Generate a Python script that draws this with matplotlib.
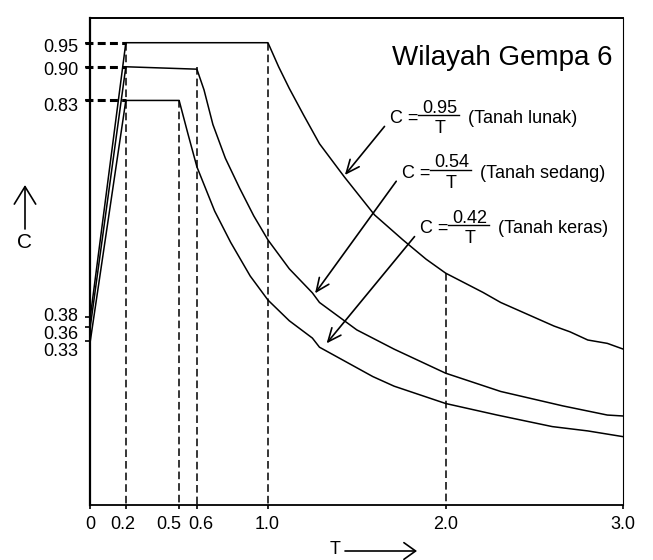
import matplotlib.pyplot as plt
import numpy as np
from matplotlib.transforms import ScaledTranslation

plt.rcParams["font.family"] = ["Liberation Sans", "DejaVu Sans"]

lunak_T = [0.0, 0.2, 1.0, 1.06, 1.12, 1.20, 1.29, 1.43, 1.60, 1.76, 1.89, 2.0, 2.21, 2.31, 2.61, 2.70, 2.80, 2.91, 3.0]
lunak_C = [0.38, 0.95, 0.95, 0.90, 0.855, 0.80, 0.74, 0.671, 0.592, 0.54, 0.50, 0.471, 0.431, 0.41, 0.361, 0.349, 0.332, 0.325, 0.313]

sedang_T = [0.0, 0.2, 0.6, 0.64, 0.69, 0.76, 0.84, 0.92, 1.0, 1.12, 1.25, 1.29, 1.5, 1.71, 2.0, 2.31, 2.66, 2.91, 3.0]
sedang_C = [0.36, 0.90, 0.895, 0.852, 0.78, 0.71, 0.648, 0.59, 0.54, 0.48, 0.43, 0.41, 0.353, 0.313, 0.263, 0.225, 0.195, 0.176, 0.174]

keras_T = [0.0, 0.2, 0.5, 0.55, 0.6, 0.7, 0.79, 0.9, 1.0, 1.12, 1.25, 1.29, 1.59, 1.71, 2.0, 2.29, 2.6, 2.8, 3.0]
keras_C = [0.33, 0.83, 0.83, 0.76, 0.692, 0.60, 0.535, 0.465, 0.415, 0.372, 0.336, 0.317, 0.256, 0.236, 0.200, 0.176, 0.152, 0.143, 0.131]

soil_names = ["Tanah lunak", "Tanah sedang", "Tanah keras"]
soil_coef = [0.95, 0.54, 0.42]
plateau_C = [0.95, 0.90, 0.83]

# dashed reference verticals (T, C where they meet the curve)
ref_T = [0.2, 0.5, 0.6, 1.0, 2.0]
ref_C = [0.95, 0.83, 0.90, 0.95, 0.471]

x_ticks = [0, 0.2, 0.5, 0.6, 1.0, 2.0, 3.0]
x_labels = ["0", "0.2", "0.5", "0.6", "1.0", "2.0", "3.0"]
y_ticks = [0.33, 0.36, 0.38, 0.83, 0.90, 0.95]
y_labels = ["0.33", "0.36", "0.38", "0.83", "0.90", "0.95"]

fig = plt.figure(figsize=(6.53, 5.60), dpi=100)
ax = fig.add_axes([90.3 / 653, 1 - 505 / 560, 533 / 653, 487.3 / 560])
ax.set_xlim(0, 3.0)
ax.set_ylim(-0.011, 1.002)

for T, C in [(lunak_T, lunak_C), (sedang_T, sedang_C), (keras_T, keras_C)]:
    ax.plot(T, C, color="black", lw=1.1, solid_joinstyle="round")

for t, c in zip(ref_T, ref_C):
    ax.plot([t, t], [c, -0.011], color="black", lw=1.1, dashes=(5, 2.6))

for c in plateau_C:
    ax.plot([-0.03, 0.2], [c, c], color="black", lw=2.2, dashes=(2.6, 1.4), clip_on=False)

# frame
ax.spines["left"].set_linewidth(1.6)
ax.spines["top"].set_linewidth(1.4)
ax.spines["bottom"].set_linewidth(1.3)
ax.spines["right"].set_linewidth(0.8)

ax.set_xticks(x_ticks)
ax.set_xticklabels(x_labels, fontsize=13)
ax.set_yticks(y_ticks)
ax.set_yticklabels(y_labels, fontsize=13)
ax.tick_params(axis="x", direction="out", length=3, width=1.2, pad=5)
ax.tick_params(axis="y", direction="out", length=3.5, width=1.2, pad=5)

# nudge crowded labels the way the drawing does (pixels)
x_shift = [0, -3, -10, 4, -1, 0, 0]
y_shift = [-9, -5.5, 2.5, -4, -2, -3]
for lab, dx in zip(ax.get_xticklabels(), x_shift):
    lab.set_transform(lab.get_transform() + ScaledTranslation(dx / 100, 0, fig.dpi_scale_trans))
for lab, dy in zip(ax.get_yticklabels(), y_shift):
    lab.set_transform(lab.get_transform() + ScaledTranslation(0, dy / 100, fig.dpi_scale_trans))

ax.text(2.941, 0.918, "Wilayah Gempa 6", fontsize=20, ha="right", va="center")

# formula labels with arrows
label_pos = [(1.686, 0.793), (1.752, 0.679), (1.855, 0.564)]
arrow_tip = [(1.433, 0.675), (1.265, 0.429), (1.330, 0.325)]
for name, k, (lx, ly), tip in zip(soil_names, soil_coef, label_pos, arrow_tip):
    ax.text(lx, ly, "C =", fontsize=13, ha="left", va="center")
    fx = lx + 0.28
    ax.text(fx, ly + 0.021, f"{k:.2f}", fontsize=13, ha="center", va="center")
    ax.plot([fx - 0.12, fx + 0.11], [ly + 0.007, ly + 0.007], color="black", lw=1.0)
    ax.text(fx, ly - 0.021, "T", fontsize=13, ha="center", va="center")
    ax.text(fx + 0.16, ly, f"({name})", fontsize=13, ha="left", va="center")
    ax.annotate("", xy=tip, xytext=(lx - 0.03, ly - 0.017),
                arrowprops=dict(arrowstyle="->,head_length=0.8,head_width=0.35",
                                color="black", lw=1.2, mutation_scale=12,
                                shrinkA=0, shrinkB=0))

# axis labels with arrows
fig.text(25 / 653, 1 - 243 / 560, "C", fontsize=15, ha="center", va="center")
ax.annotate("", xy=(25, 560 - 185), xytext=(25, 560 - 229), xycoords="figure pixels",
            textcoords="figure pixels",
            arrowprops=dict(arrowstyle="->,head_length=0.9,head_width=0.55", color="black",
                            lw=1.2, mutation_scale=14, shrinkA=0, shrinkB=0))
fig.text(335, 2, "T", fontsize=13, ha="center", va="bottom", transform=None)
ax.annotate("", xy=(417, 9), xytext=(345, 9), xycoords="figure pixels",
            textcoords="figure pixels",
            arrowprops=dict(arrowstyle="->,head_length=0.7,head_width=0.5", color="black",
                            lw=1.2, mutation_scale=12, shrinkA=0, shrinkB=0))

fig.savefig("out.png", dpi=100)
plt.close(fig)
